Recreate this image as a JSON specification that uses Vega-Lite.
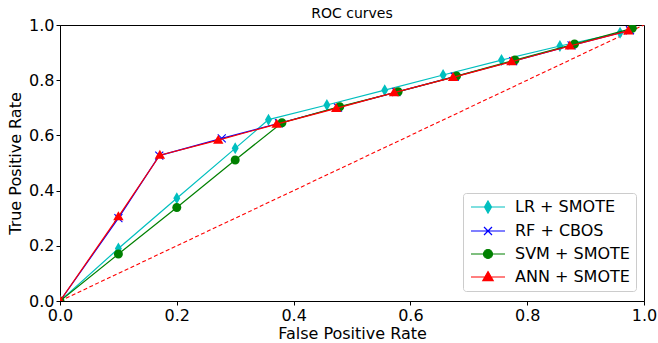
{
  "$schema": "https://vega.github.io/schema/vega-lite/v6.json",
  "width": 584,
  "height": 276,
  "autosize": {"type": "none"},
  "padding": {"left": 60, "top": 25, "right": 14, "bottom": 42},
  "background": "white",
  "title": {"text": "ROC curves", "fontSize": 14, "fontWeight": "normal", "font": "DejaVu Sans", "color": "black", "offset": 5, "dy": 9, "anchor": "middle", "frame": "group"},
  "config": {
    "view": {"stroke": "black", "strokeWidth": 1},
    "axis": {
      "labelFont": "DejaVu Sans", "labelFontSize": 16, "labelColor": "black",
      "titleFont": "DejaVu Sans", "titleFontSize": 16, "titleFontWeight": "normal", "titleColor": "black",
      "domainColor": "black", "tickColor": "black", "tickSize": 4, "grid": false,
      "labelPadding": 2, "labelFlush": false, "labelOverlap": false
    }
  },
  "datasets": {
    "roc": [
      {"model": "LR + SMOTE", "fpr": 0, "tpr": 0},
      {"model": "LR + SMOTE", "fpr": 0.1, "tpr": 0.19},
      {"model": "LR + SMOTE", "fpr": 0.2, "tpr": 0.372},
      {"model": "LR + SMOTE", "fpr": 0.3, "tpr": 0.553},
      {"model": "LR + SMOTE", "fpr": 0.357, "tpr": 0.657},
      {"model": "LR + SMOTE", "fpr": 0.457, "tpr": 0.71},
      {"model": "LR + SMOTE", "fpr": 0.556, "tpr": 0.764},
      {"model": "LR + SMOTE", "fpr": 0.656, "tpr": 0.819},
      {"model": "LR + SMOTE", "fpr": 0.756, "tpr": 0.873},
      {"model": "LR + SMOTE", "fpr": 0.856, "tpr": 0.924},
      {"model": "LR + SMOTE", "fpr": 0.959, "tpr": 0.972},
      {"model": "RF + CBOS", "fpr": 0, "tpr": 0},
      {"model": "RF + CBOS", "fpr": 0.1, "tpr": 0.3},
      {"model": "RF + CBOS", "fpr": 0.17, "tpr": 0.527},
      {"model": "RF + CBOS", "fpr": 0.277, "tpr": 0.589},
      {"model": "RF + CBOS", "fpr": 0.375, "tpr": 0.644},
      {"model": "RF + CBOS", "fpr": 0.476, "tpr": 0.701},
      {"model": "RF + CBOS", "fpr": 0.576, "tpr": 0.757},
      {"model": "RF + CBOS", "fpr": 0.676, "tpr": 0.813},
      {"model": "RF + CBOS", "fpr": 0.776, "tpr": 0.869},
      {"model": "RF + CBOS", "fpr": 0.876, "tpr": 0.926},
      {"model": "RF + CBOS", "fpr": 0.976, "tpr": 0.981},
      {"model": "SVM + SMOTE", "fpr": 0, "tpr": 0},
      {"model": "SVM + SMOTE", "fpr": 0.1, "tpr": 0.17},
      {"model": "SVM + SMOTE", "fpr": 0.2, "tpr": 0.339},
      {"model": "SVM + SMOTE", "fpr": 0.3, "tpr": 0.511},
      {"model": "SVM + SMOTE", "fpr": 0.38, "tpr": 0.646},
      {"model": "SVM + SMOTE", "fpr": 0.479, "tpr": 0.704},
      {"model": "SVM + SMOTE", "fpr": 0.579, "tpr": 0.758},
      {"model": "SVM + SMOTE", "fpr": 0.679, "tpr": 0.815},
      {"model": "SVM + SMOTE", "fpr": 0.779, "tpr": 0.873},
      {"model": "SVM + SMOTE", "fpr": 0.881, "tpr": 0.931},
      {"model": "SVM + SMOTE", "fpr": 0.98, "tpr": 0.988},
      {"model": "ANN + SMOTE", "fpr": 0, "tpr": 0},
      {"model": "ANN + SMOTE", "fpr": 0.1, "tpr": 0.306},
      {"model": "ANN + SMOTE", "fpr": 0.171, "tpr": 0.528},
      {"model": "ANN + SMOTE", "fpr": 0.271, "tpr": 0.583},
      {"model": "ANN + SMOTE", "fpr": 0.371, "tpr": 0.641},
      {"model": "ANN + SMOTE", "fpr": 0.473, "tpr": 0.698},
      {"model": "ANN + SMOTE", "fpr": 0.572, "tpr": 0.755},
      {"model": "ANN + SMOTE", "fpr": 0.673, "tpr": 0.81},
      {"model": "ANN + SMOTE", "fpr": 0.773, "tpr": 0.867},
      {"model": "ANN + SMOTE", "fpr": 0.873, "tpr": 0.924},
      {"model": "ANN + SMOTE", "fpr": 0.973, "tpr": 0.979}
    ],
    "diag": [
      {"fpr": 0, "tpr": 0},
      {"fpr": 1, "tpr": 1}
    ]
  },
  "encoding": {
    "x": {"field": "fpr", "type": "quantitative", "scale": {"domain": [0, 1], "nice": false, "zero": false},
          "axis": {"title": "False Positive Rate", "format": ".1f", "values": [0, 0.2, 0.4, 0.6, 0.8, 1.0], "titlePadding": 2}},
    "y": {"field": "tpr", "type": "quantitative", "scale": {"domain": [0, 1], "nice": false, "zero": false},
          "axis": {"title": "True Positive Rate", "format": ".1f", "values": [0, 0.2, 0.4, 0.6, 0.8, 1.0], "titlePadding": 5}}
  },
  "layer": [
    {
      "data": {"name": "diag"},
      "mark": {"type": "line", "color": "#ff0000", "strokeWidth": 1.1, "strokeDash": [4, 2.5], "clip": true},
      "encoding": {}
    },
    {
      "data": {"name": "roc"},
      "transform": [{"filter": "datum.model === 'LR + SMOTE'"}],
      "mark": {"type": "line", "color": "#00bfbf", "strokeWidth": 1.2, "clip": true,
               "point": {"shape": "M0,-1L0.583,0L0,1L-0.583,0Z", "size": 144, "filled": true, "color": "#00bfbf", "opacity": 1}},
      "encoding": {}
    },
    {
      "data": {"name": "roc"},
      "transform": [{"filter": "datum.model === 'RF + CBOS'"}],
      "mark": {"type": "line", "color": "#0000ff", "strokeWidth": 1.2, "clip": true,
               "point": {"shape": "M-0.667,-0.667L0.667,0.667M-0.667,0.667L0.667,-0.667", "size": 144, "filled": false, "stroke": "#0000ff", "strokeWidth": 1.1, "opacity": 1}},
      "encoding": {}
    },
    {
      "data": {"name": "roc"},
      "transform": [{"filter": "datum.model === 'SVM + SMOTE'"}],
      "mark": {"type": "line", "color": "#008000", "strokeWidth": 1.2, "clip": true,
               "point": {"shape": "M0.75,0A0.75,0.75,0,1,1,-0.75,0A0.75,0.75,0,1,1,0.75,0Z", "size": 144, "filled": true, "color": "#008000", "opacity": 1}},
      "encoding": {}
    },
    {
      "data": {"name": "roc"},
      "transform": [{"filter": "datum.model === 'ANN + SMOTE'"}],
      "mark": {"type": "line", "color": "#ff0000", "strokeWidth": 1.2, "clip": true,
               "point": {"shape": "M0,-0.9L0.867,0.6L-0.867,0.6Z", "size": 144, "filled": true, "color": "#ff0000", "opacity": 1}},
      "encoding": {}
    },
    {
      "data": {"name": "roc"},
      "mark": {"type": "point", "opacity": 0, "filled": true, "strokeWidth": 1.2, "clip": true},
      "encoding": {
        "fill": {"field": "model", "type": "nominal",
                 "scale": {"domain": ["LR + SMOTE", "RF + CBOS", "SVM + SMOTE", "ANN + SMOTE"], "range": ["#00bfbf", "#ffffff00", "#008000", "#ff0000"]},
                 "legend": null},
        "stroke": {"field": "model", "type": "nominal",
                   "scale": {"domain": ["LR + SMOTE", "RF + CBOS", "SVM + SMOTE", "ANN + SMOTE"], "range": ["#00bfbf", "#0000ff", "#008000", "#ff0000"]},
                   "legend": null},
        "shape": {"field": "model", "type": "nominal",
                  "scale": {"domain": ["LR + SMOTE", "RF + CBOS", "SVM + SMOTE", "ANN + SMOTE"],
                            "range": [
                              "M-1,0H4.667M1.833,-1L2.417,0L1.833,1L1.25,0Z",
                              "M-1,0H4.667M1.167,-0.667L2.5,0.667M1.167,0.667L2.5,-0.667",
                              "M-1,0H4.667M2.583,0A0.75,0.75,0,1,1,1.083,0A0.75,0.75,0,1,1,2.583,0Z",
                              "M-1,0H4.667M1.833,-0.9L2.7,0.6L0.967,0.6Z"
                            ]},
                  "legend": {
                    "title": null, "orient": "none", "legendX": 403, "legendY": 168,
                    "strokeColor": "#cccccc", "fillColor": "white", "cornerRadius": 3, "padding": 6,
                    "labelFont": "DejaVu Sans", "labelFontSize": 16, "labelColor": "black",
                    "symbolSize": 144, "symbolOpacity": 1, "symbolStrokeWidth": 1.2,
                    "symbolStrokeColor": "black",
                    "rowPadding": 7, "labelOffset": 30
                  }}
      }
    }
  ]
}
